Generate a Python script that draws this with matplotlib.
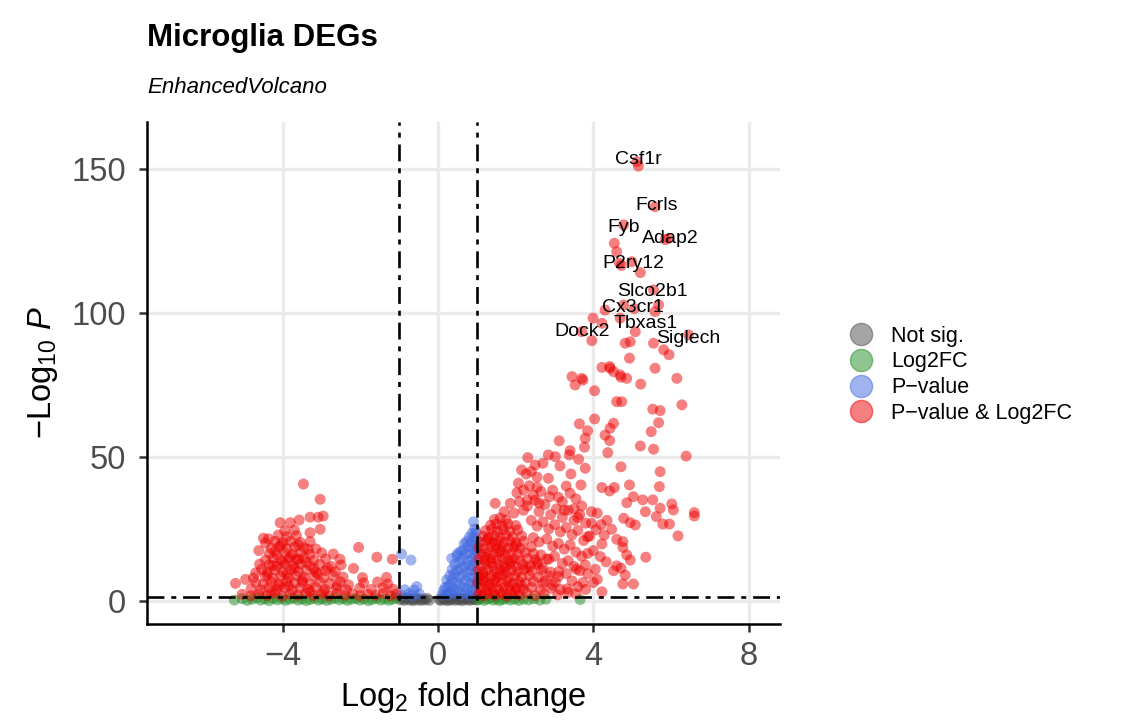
import matplotlib
matplotlib.use("Agg")
import matplotlib.pyplot as plt
from matplotlib.lines import Line2D

plt.rcParams['font.family'] = ['Liberation Sans', 'DejaVu Sans']
plt.rcParams['mathtext.fontset'] = 'custom'
plt.rcParams['mathtext.rm'] = 'Liberation Sans'
plt.rcParams['mathtext.it'] = 'Liberation Sans:italic'

# (log2FC, -log10 P)
grey_pts = [
    (-0.98, 0.4), (-0.93, 0.9), (-0.88, 0.2), (-0.84, 0.6), (-0.79, 1.1), (-0.74, 0.3),
    (-0.70, 0.7), (-0.65, 0.1), (-0.61, 0.5), (-0.56, 1.0), (-0.52, 0.3), (-0.47, 0.8),
    (-0.43, 0.2), (-0.38, 0.6), (-0.33, 0.4), (-0.28, 0.9), (-0.23, 0.2),
    (0.03, 0.5), (0.07, 0.2), (0.11, 0.9), (0.15, 0.4), (0.19, 0.7), (0.23, 0.1),
    (0.27, 1.0), (0.31, 0.3), (0.35, 0.6), (0.39, 0.8), (0.43, 0.2), (0.47, 1.1),
    (0.51, 0.5), (0.55, 0.3), (0.59, 0.9), (0.63, 0.1), (0.67, 0.6), (0.71, 1.0),
    (0.75, 0.4), (0.79, 0.7), (0.83, 0.2), (0.87, 0.8), (0.91, 0.5), (0.95, 1.1), (0.99, 0.3),
]

green_pts = [
    (-5.25, 0.3), (-5.05, 0.8), (-4.92, 0.2), (-4.80, 0.6), (-4.68, 1.0), (-4.57, 0.3),
    (-4.46, 0.7), (-4.35, 0.1), (-4.25, 0.9), (-4.14, 0.4), (-4.03, 0.8), (-3.93, 0.2),
    (-3.82, 0.6), (-3.72, 1.0), (-3.61, 0.3), (-3.51, 0.7), (-3.40, 0.1), (-3.30, 0.5),
    (-3.19, 0.9), (-3.08, 0.3), (-2.98, 0.7), (-2.87, 0.2), (-2.76, 0.6), (-2.66, 1.0),
    (-2.55, 0.4), (-2.44, 0.8), (-2.34, 0.2), (-2.23, 0.6), (-2.12, 0.9), (-2.02, 0.3),
    (-1.91, 0.7), (-1.80, 0.1), (-1.70, 0.5), (-1.59, 0.9), (-1.48, 0.3), (-1.38, 0.7),
    (-1.27, 0.2), (-1.17, 0.6), (-1.07, 1.0),
    (1.03, 0.4), (1.10, 0.9), (1.18, 0.2), (1.26, 0.6), (1.34, 1.0), (1.42, 0.3),
    (1.50, 0.7), (1.58, 0.1), (1.67, 0.5), (1.76, 0.9), (1.86, 0.3), (1.97, 0.7),
    (2.08, 0.2), (2.20, 0.6), (2.33, 0.4), (2.47, 0.8), (2.62, 0.3), (2.78, 0.6), (3.66, 0.5),
]

blue_pts = [
    (-0.94, 16.3), (-0.70, 14.2), (-0.55, 5.0), (-0.62, 3.8), (-0.86, 3.9), (-0.74, 2.6),
    (-0.95, 2.1), (-0.48, 2.4), (-0.66, 1.8),
    (0.10, 2.0), (0.14, 3.6), (0.18, 4.7), (0.20, 2.4), (0.22, 7.3), (0.25, 5.0),
    (0.27, 2.2), (0.30, 8.8), (0.31, 5.8), (0.33, 3.1), (0.35, 14.8), (0.36, 11.0),
    (0.37, 7.6), (0.39, 4.2), (0.41, 9.5), (0.43, 12.8), (0.44, 2.6), (0.46, 6.4),
    (0.48, 15.6), (0.49, 10.6), (0.50, 16.5), (0.51, 3.8), (0.53, 8.2), (0.55, 13.4),
    (0.56, 5.6), (0.58, 17.2), (0.59, 11.3), (0.60, 2.1), (0.62, 14.8), (0.63, 8.9),
    (0.65, 17.7), (0.66, 4.8), (0.67, 19.8), (0.68, 12.0), (0.70, 6.9), (0.71, 16.2),
    (0.72, 2.9), (0.73, 20.6), (0.74, 10.1), (0.76, 14.0), (0.77, 4.3), (0.78, 18.9),
    (0.79, 8.3), (0.80, 22.1), (0.81, 12.4), (0.82, 2.0), (0.83, 16.7), (0.84, 6.2),
    (0.85, 20.4), (0.86, 10.8), (0.87, 23.5), (0.88, 14.6), (0.89, 3.6), (0.90, 18.2),
    (0.91, 27.5), (0.91, 8.0), (0.92, 22.0), (0.93, 12.2), (0.94, 25.0), (0.95, 5.3),
    (0.95, 16.0), (0.96, 19.6), (0.97, 9.9), (0.97, 23.8), (0.98, 2.8), (0.98, 13.6),
    (0.99, 17.5), (0.99, 6.8), (0.99, 21.2),
]

red_left = [
    (-5.05, 2.3), (-4.82, 1.8), (-4.62, 2.5), (-4.41, 1.9), (-4.21, 2.6), (-4.01, 1.7),
    (-3.81, 2.4), (-3.61, 2.0), (-3.41, 2.7), (-3.21, 1.9), (-3.01, 2.4), (-2.81, 1.8),
    (-2.61, 2.6), (-2.41, 2.0), (-2.21, 2.5), (-2.01, 1.8), (-1.81, 2.4), (-1.61, 2.0),
    (-1.41, 2.6), (-1.23, 1.9), (-1.08, 2.4),
    (-4.82, 4.3), (-4.57, 3.9), (-4.36, 4.6), (-4.16, 4.0), (-3.96, 4.7), (-3.76, 3.8),
    (-3.56, 4.5), (-3.36, 4.1), (-3.16, 4.8), (-2.91, 4.0), (-2.62, 4.4), (-2.36, 3.9),
    (-2.02, 4.5), (-1.72, 4.0), (-1.42, 4.6), (-1.16, 4.1),
    (-5.22, 6.1), (-4.70, 6.4), (-4.50, 5.9), (-4.30, 6.7), (-4.10, 6.0), (-3.90, 6.8),
    (-3.70, 6.2), (-3.50, 6.6), (-3.30, 5.9), (-3.05, 6.5), (-2.80, 6.0), (-2.52, 6.7),
    (-2.31, 5.6), (-1.92, 6.3), (-1.56, 6.6), (-1.30, 5.9),
    (-4.96, 7.5), (-4.76, 8.0), (-4.45, 8.4), (-4.25, 7.9), (-4.05, 8.7), (-3.85, 8.1),
    (-3.65, 8.8), (-3.45, 8.2), (-3.20, 8.6), (-2.95, 8.0), (-2.70, 8.7), (-2.45, 8.3),
    (-1.95, 8.1), (-1.33, 8.2),
    (-4.55, 11.0), (-4.40, 10.2), (-4.20, 10.8), (-4.00, 10.1), (-3.80, 10.9), (-3.60, 10.3),
    (-3.40, 10.7), (-3.15, 10.0), (-2.90, 10.6), (-2.65, 10.2), (-2.18, 11.3),
    (-4.35, 12.6), (-4.15, 12.1), (-3.95, 12.8), (-3.75, 12.2), (-3.55, 12.9), (-3.30, 12.3),
    (-3.05, 12.7), (-2.75, 12.0), (-2.50, 12.5),
    (-4.45, 14.2), (-4.25, 14.8), (-4.05, 14.1), (-3.85, 14.7), (-3.65, 14.3), (-3.45, 14.9),
    (-3.20, 14.2), (-2.90, 14.6), (-2.53, 14.5), (-1.58, 15.2), (-1.18, 14.5),
    (-4.35, 16.5), (-4.15, 16.0), (-3.95, 16.8), (-3.75, 16.2), (-3.55, 16.6), (-3.30, 16.1),
    (-3.00, 16.7), (-2.70, 16.3),
    (-4.30, 18.3), (-4.10, 18.9), (-3.90, 18.2), (-3.70, 18.8), (-3.45, 18.4), (-3.15, 18.1),
    (-2.05, 18.6),
    (-4.45, 20.1), (-4.20, 20.7), (-4.00, 20.2), (-3.80, 20.8), (-3.55, 20.3), (-3.30, 20.6),
    (-4.50, 21.8), (-4.37, 21.6), (-4.12, 22.9), (-3.90, 22.3), (-3.65, 22.7),
    (-3.95, 24.3), (-3.70, 24.6), (-3.30, 23.7), (-3.04, 24.9),
    (-4.07, 27.2), (-3.81, 27.2), (-3.58, 28.1), (-3.30, 29.1), (-3.09, 29.1), (-2.96, 29.5),
    (-3.04, 35.3), (-3.47, 40.6),
    (-4.30, 3.1), (-4.10, 5.2), (-3.90, 9.3), (-3.70, 11.4), (-3.50, 7.3), (-4.00, 13.5),
    (-3.80, 15.4), (-4.20, 17.3), (-3.60, 19.4), (-4.40, 9.2), (-3.40, 13.4), (-3.10, 9.4),
    (-2.85, 11.4), (-2.60, 5.3), (-3.30, 3.2),
    (-4.60, 12.8), (-4.62, 17.5), (-4.25, 12.3), (-3.85, 5.3), (-3.20, 11.2), (-2.95, 3.3),
    (-4.70, 9.8), (-3.60, 14.6), (-4.05, 19.5), (-3.35, 18.0),
]

red_right = [
    # dense blob just past the fold-change cutoff
    (1.04, 2.3), (1.17, 1.8), (1.31, 2.6), (1.46, 1.9), (1.62, 2.4), (1.77, 1.7),
    (1.93, 2.5), (2.09, 2.0), (2.28, 2.7), (2.49, 1.9), (2.73, 2.4), (3.08, 2.1),
    (1.09, 4.4), (1.24, 3.9), (1.39, 4.6), (1.55, 4.1), (1.70, 4.8), (1.86, 3.8),
    (2.01, 4.5), (2.19, 4.0), (2.41, 4.7), (2.64, 3.9), (2.91, 4.4), (3.32, 4.2),
    (1.02, 6.3), (1.18, 6.8), (1.33, 5.9), (1.48, 6.6), (1.63, 6.1), (1.78, 6.9),
    (1.93, 6.0), (2.08, 6.7), (2.25, 6.2), (2.46, 6.8), (2.70, 6.1), (3.02, 6.6),
    (1.07, 8.5), (1.21, 8.1), (1.37, 8.8), (1.52, 8.2), (1.67, 8.9), (1.82, 8.0),
    (1.98, 8.6), (2.15, 8.3), (2.35, 8.9), (2.59, 8.2), (2.86, 8.7),
    (1.03, 10.6), (1.15, 10.1), (1.30, 10.8), (1.45, 10.3), (1.60, 10.9), (1.75, 10.0),
    (1.90, 10.7), (2.05, 10.2), (2.21, 10.9), (2.41, 10.4), (2.66, 10.8), (3.11, 10.2),
    (1.10, 12.4), (1.25, 12.9), (1.40, 12.2), (1.55, 12.8), (1.70, 12.3), (1.85, 12.9),
    (2.00, 12.1), (2.18, 12.7), (2.38, 12.2), (2.56, 12.8),
    (1.05, 14.6), (1.20, 14.1), (1.35, 14.8), (1.50, 14.3), (1.65, 14.9), (1.80, 14.2),
    (1.95, 14.7), (2.11, 14.1), (2.30, 14.8), (2.50, 14.3), (2.80, 14.6),
    (1.12, 16.3), (1.28, 16.9), (1.42, 16.2), (1.58, 16.8), (1.72, 16.1), (1.88, 16.7),
    (2.05, 16.2), (2.25, 16.9), (2.46, 16.4),
    (1.05, 18.6), (1.18, 18.1), (1.35, 18.8), (1.50, 18.2), (1.65, 18.9), (1.80, 18.3),
    (1.95, 18.7), (2.12, 18.2), (2.40, 18.8),
    (1.10, 20.4), (1.25, 20.9), (1.40, 20.2), (1.55, 20.8), (1.70, 20.3), (1.85, 20.9),
    (2.00, 20.2), (2.20, 20.7),
    (1.15, 22.5), (1.30, 22.0), (1.45, 22.7), (1.60, 22.1), (1.75, 22.8), (1.92, 22.2),
    (2.15, 22.6),
    (1.22, 24.4), (1.38, 24.9), (1.52, 24.2), (1.68, 24.8), (1.85, 24.3), (2.05, 24.7),
    (1.35, 26.3), (1.50, 26.8), (1.65, 26.1), (1.80, 26.7), (2.00, 26.2),
    (1.45, 28.3), (1.60, 28.8), (1.75, 28.1),
    (1.12, 3.1), (1.28, 5.2), (1.44, 7.3), (1.58, 9.4), (1.72, 11.5), (1.36, 13.4),
    (1.22, 15.3), (1.62, 17.4), (1.48, 19.5), (1.30, 21.5), (1.16, 9.2), (1.84, 5.3),
    (1.99, 3.2), (2.14, 5.4), (2.29, 11.6), (1.88, 13.6), (2.02, 19.3), (1.14, 7.2),
    (1.42, 3.0), (1.66, 2.9),
    (1.47, 33.9), (1.86, 33.9), (1.70, 31.0), (1.95, 30.5), (2.20, 31.5),
    # middle spread
    (2.30, 33.0), (2.50, 35.0), (2.60, 31.0), (2.75, 33.5), (2.90, 30.0), (3.05, 32.0),
    (3.20, 29.0), (3.35, 31.5), (3.50, 28.0), (3.65, 30.0), (3.80, 27.0), (2.40, 28.0),
    (2.55, 26.0), (2.70, 27.5), (2.85, 25.0), (3.00, 26.5), (3.15, 24.0), (3.30, 25.5),
    (3.45, 23.0), (3.60, 24.5), (3.75, 21.0), (3.90, 22.5), (2.45, 22.0), (2.60, 20.5),
    (2.80, 21.5), (2.95, 19.0), (3.10, 20.0), (3.25, 18.0), (3.40, 19.5), (3.55, 17.0),
    (3.70, 15.5), (3.85, 16.5), (4.00, 17.5), (2.65, 16.0), (2.85, 14.5), (3.00, 15.5),
    (3.20, 13.0), (3.35, 14.0), (3.50, 12.0), (3.65, 10.5), (3.85, 9.5), (4.05, 11.0),
    (2.70, 11.5), (2.90, 10.0), (3.10, 8.5), (3.30, 9.5), (3.45, 7.0), (3.60, 5.0),
    (3.80, 4.0), (4.10, 7.5), (2.95, 5.5), (3.15, 4.0), (3.35, 3.0), (3.55, 2.5),
    (2.75, 7.0), (2.55, 13.5),
    (2.15, 45.5), (2.40, 45.0), (2.55, 43.0), (2.35, 40.0), (2.55, 39.5), (2.20, 38.5),
    (2.45, 36.8), (2.65, 38.0), (2.10, 34.5), (2.30, 35.0), (2.60, 34.0), (2.95, 38.5),
    (3.10, 36.0), (3.20, 34.5), (3.55, 35.5), (3.25, 31.5), (3.50, 32.0), (3.70, 33.0),
    (3.95, 31.0), (3.60, 29.0), (4.10, 30.5), (4.35, 28.0), (4.20, 26.5), (3.95, 27.0),
    # upper tail
    (5.12, 152.5), (5.16, 151.0), (5.59, 136.9), (4.78, 130.6), (5.94, 125.9), (5.85, 125.5),
    (4.54, 124.2), (4.60, 121.3), (4.67, 117.3), (4.72, 116.5), (4.99, 117.8), (5.21, 114.0),
    (5.55, 108.0), (4.78, 102.8), (5.68, 102.8), (4.30, 101.0), (5.59, 100.5), (5.05, 101.5),
    (3.99, 98.2), (4.22, 96.4), (4.69, 98.2), (5.08, 93.5), (3.70, 93.5), (3.96, 90.4),
    (4.82, 89.5), (4.95, 90.0), (5.55, 89.5), (6.45, 92.4), (5.81, 87.2), (5.95, 85.5),
    (4.93, 84.3), (4.22, 81.1), (4.43, 80.8), (4.69, 78.5), (5.59, 80.8), (3.45, 77.9),
    (3.70, 77.3), (6.15, 77.3), (4.42, 81.4), (4.52, 79.6), (3.73, 76.7), (3.53, 75.0),
    (4.71, 77.7), (4.86, 77.3), (5.22, 75.3), (4.03, 73.0), (4.60, 69.2), (4.73, 69.2),
    (6.28, 68.1), (5.53, 66.6), (5.72, 66.1), (4.03, 63.2), (5.68, 61.9), (3.64, 61.5),
    (4.52, 61.7), (4.43, 60.0), (3.85, 59.1), (5.49, 58.8), (4.30, 57.6), (3.79, 56.5),
    (4.42, 55.7), (3.12, 55.6), (5.21, 53.8), (5.55, 52.7), (3.77, 53.4), (3.40, 52.2),
    (4.37, 51.5), (6.39, 50.3), (2.84, 50.7), (3.02, 50.1), (2.31, 49.8), (3.38, 50.7),
    (3.62, 49.2), (2.70, 47.8), (2.50, 47.2), (3.14, 46.9), (3.79, 46.1), (4.71, 46.6),
    (5.72, 44.9), (2.27, 44.1), (2.84, 42.6), (3.42, 44.1), (2.07, 40.9), (3.68, 40.3),
    (3.30, 39.9), (4.22, 39.4), (4.54, 39.4), (4.42, 38.2), (4.93, 40.3), (5.70, 39.7),
    (2.03, 37.6), (2.87, 36.2), (3.40, 37.4), (5.03, 36.2), (4.86, 34.1), (5.27, 35.1),
    (5.53, 35.1), (5.72, 32.2), (6.02, 33.7), (6.06, 31.6), (6.60, 30.7), (6.60, 29.5),
    (5.34, 31.0), (5.62, 29.3), (5.79, 26.7), (5.96, 26.7), (6.18, 22.6), (4.78, 28.7),
    (4.95, 27.2), (5.08, 26.4), (4.47, 24.9), (4.60, 21.4), (4.76, 20.6), (4.76, 18.6),
    (4.22, 19.8), (3.85, 22.3), (4.07, 24.7), (4.28, 22.9), (4.86, 16.0), (4.95, 14.2),
    (5.35, 15.2), (4.18, 15.4), (4.33, 13.6), (4.60, 12.2), (4.71, 11.4), (4.52, 10.5),
    (4.82, 9.0), (5.03, 5.9), (4.76, 5.9), (4.22, 3.2), (4.00, 6.4), (3.73, 6.4),
    (3.79, 12.5), (3.56, 11.0),
]

label_names = ["Csf1r", "Fcrls", "Fyb", "Adap2", "P2ry12", "Slco2b1",
               "Cx3cr1", "Tbxas1", "Dock2", "Siglech"]
label_x = [5.15, 5.64, 4.78, 5.98, 5.02, 5.53, 5.03, 5.36, 3.70, 6.45]
label_y = [153.3, 137.2, 129.7, 125.7, 117.3, 107.6, 101.8, 96.2, 93.5, 91.2]

legend_labels = ["Not sig.", "Log2FC", "P\u2212value", "P\u2212value & Log2FC"]
colours = ["#4D4D4D", "#228B22", "#4169E1", "#EE0000"]

fc_cut = 1.0
p_line = 1.30

fig = plt.figure(figsize=(11.25, 7.22), dpi=100)
ax = fig.add_axes([0.1307, 0.1357, 0.5627, 0.6953])

for g in [-4, 0, 4, 8]:
    ax.axvline(g, color="#EBEBEB", lw=2.4, zorder=0)
for g in [0, 50, 100, 150]:
    ax.axhline(g, color="#EBEBEB", lw=2.4, zorder=0)

groups = [grey_pts, green_pts, blue_pts, red_left + red_right]
for pts, col in zip(groups, colours):
    xs = [p[0] for p in pts]
    ys = [p[1] for p in pts]
    ax.scatter(xs, ys, s=62, color=col, alpha=0.5, edgecolors="none", zorder=2)

dash = (0, (6.4, 2.6, 1.9, 2.6))
ax.axvline(-fc_cut, color="black", lw=1.9, linestyle=dash, zorder=3)
ax.axvline(fc_cut, color="black", lw=1.9, linestyle=dash, zorder=3)
ax.axhline(p_line, color="black", lw=1.9, linestyle=dash, zorder=3)

for name, x, y in zip(label_names, label_x, label_y):
    ax.text(x, y, name, fontsize=14, ha="center", va="center", zorder=4)

ax.set_xlim(-7.5, 8.81)
ax.set_ylim(-8, 166.3)
ax.set_xticks([-4, 0, 4, 8])
ax.set_yticks([0, 50, 100, 150])
ax.tick_params(labelsize=23.5, colors="#333333", labelcolor="#4D4D4D",
               length=6, width=1.8)
ax.tick_params(axis="y", pad=9)
ax.tick_params(axis="x", pad=6)
for side in ["top", "right"]:
    ax.spines[side].set_visible(False)
for side in ["left", "bottom"]:
    ax.spines[side].set_linewidth(1.8)
    ax.spines[side].set_color("black")

ax.set_xlabel(r"$\mathrm{Log}_{2}$ fold change", fontsize=23.5, labelpad=6)
ax.set_ylabel(r"$-\mathrm{Log}_{10}\ \mathit{P}$", fontsize=23.5, labelpad=8)

fig.text(0.1307, 0.9363, "Microglia DEGs", fontsize=22.5, fontweight="bold", va="baseline")
fig.text(0.1307, 0.871, "EnhancedVolcano", fontsize=16, style="italic", va="baseline")

handles = [Line2D([], [], marker="o", linestyle="none", markersize=16,
                  markerfacecolor=c, markeredgecolor=c, alpha=0.5) for c in colours]
fig.legend(handles, legend_labels, loc="upper left", bbox_to_anchor=(0.746, 0.561),
           frameon=False, fontsize=15.5, handletextpad=0.8, labelspacing=0.22,
           borderaxespad=0, handlelength=1.2)

fig.savefig("out.png", dpi=100)
